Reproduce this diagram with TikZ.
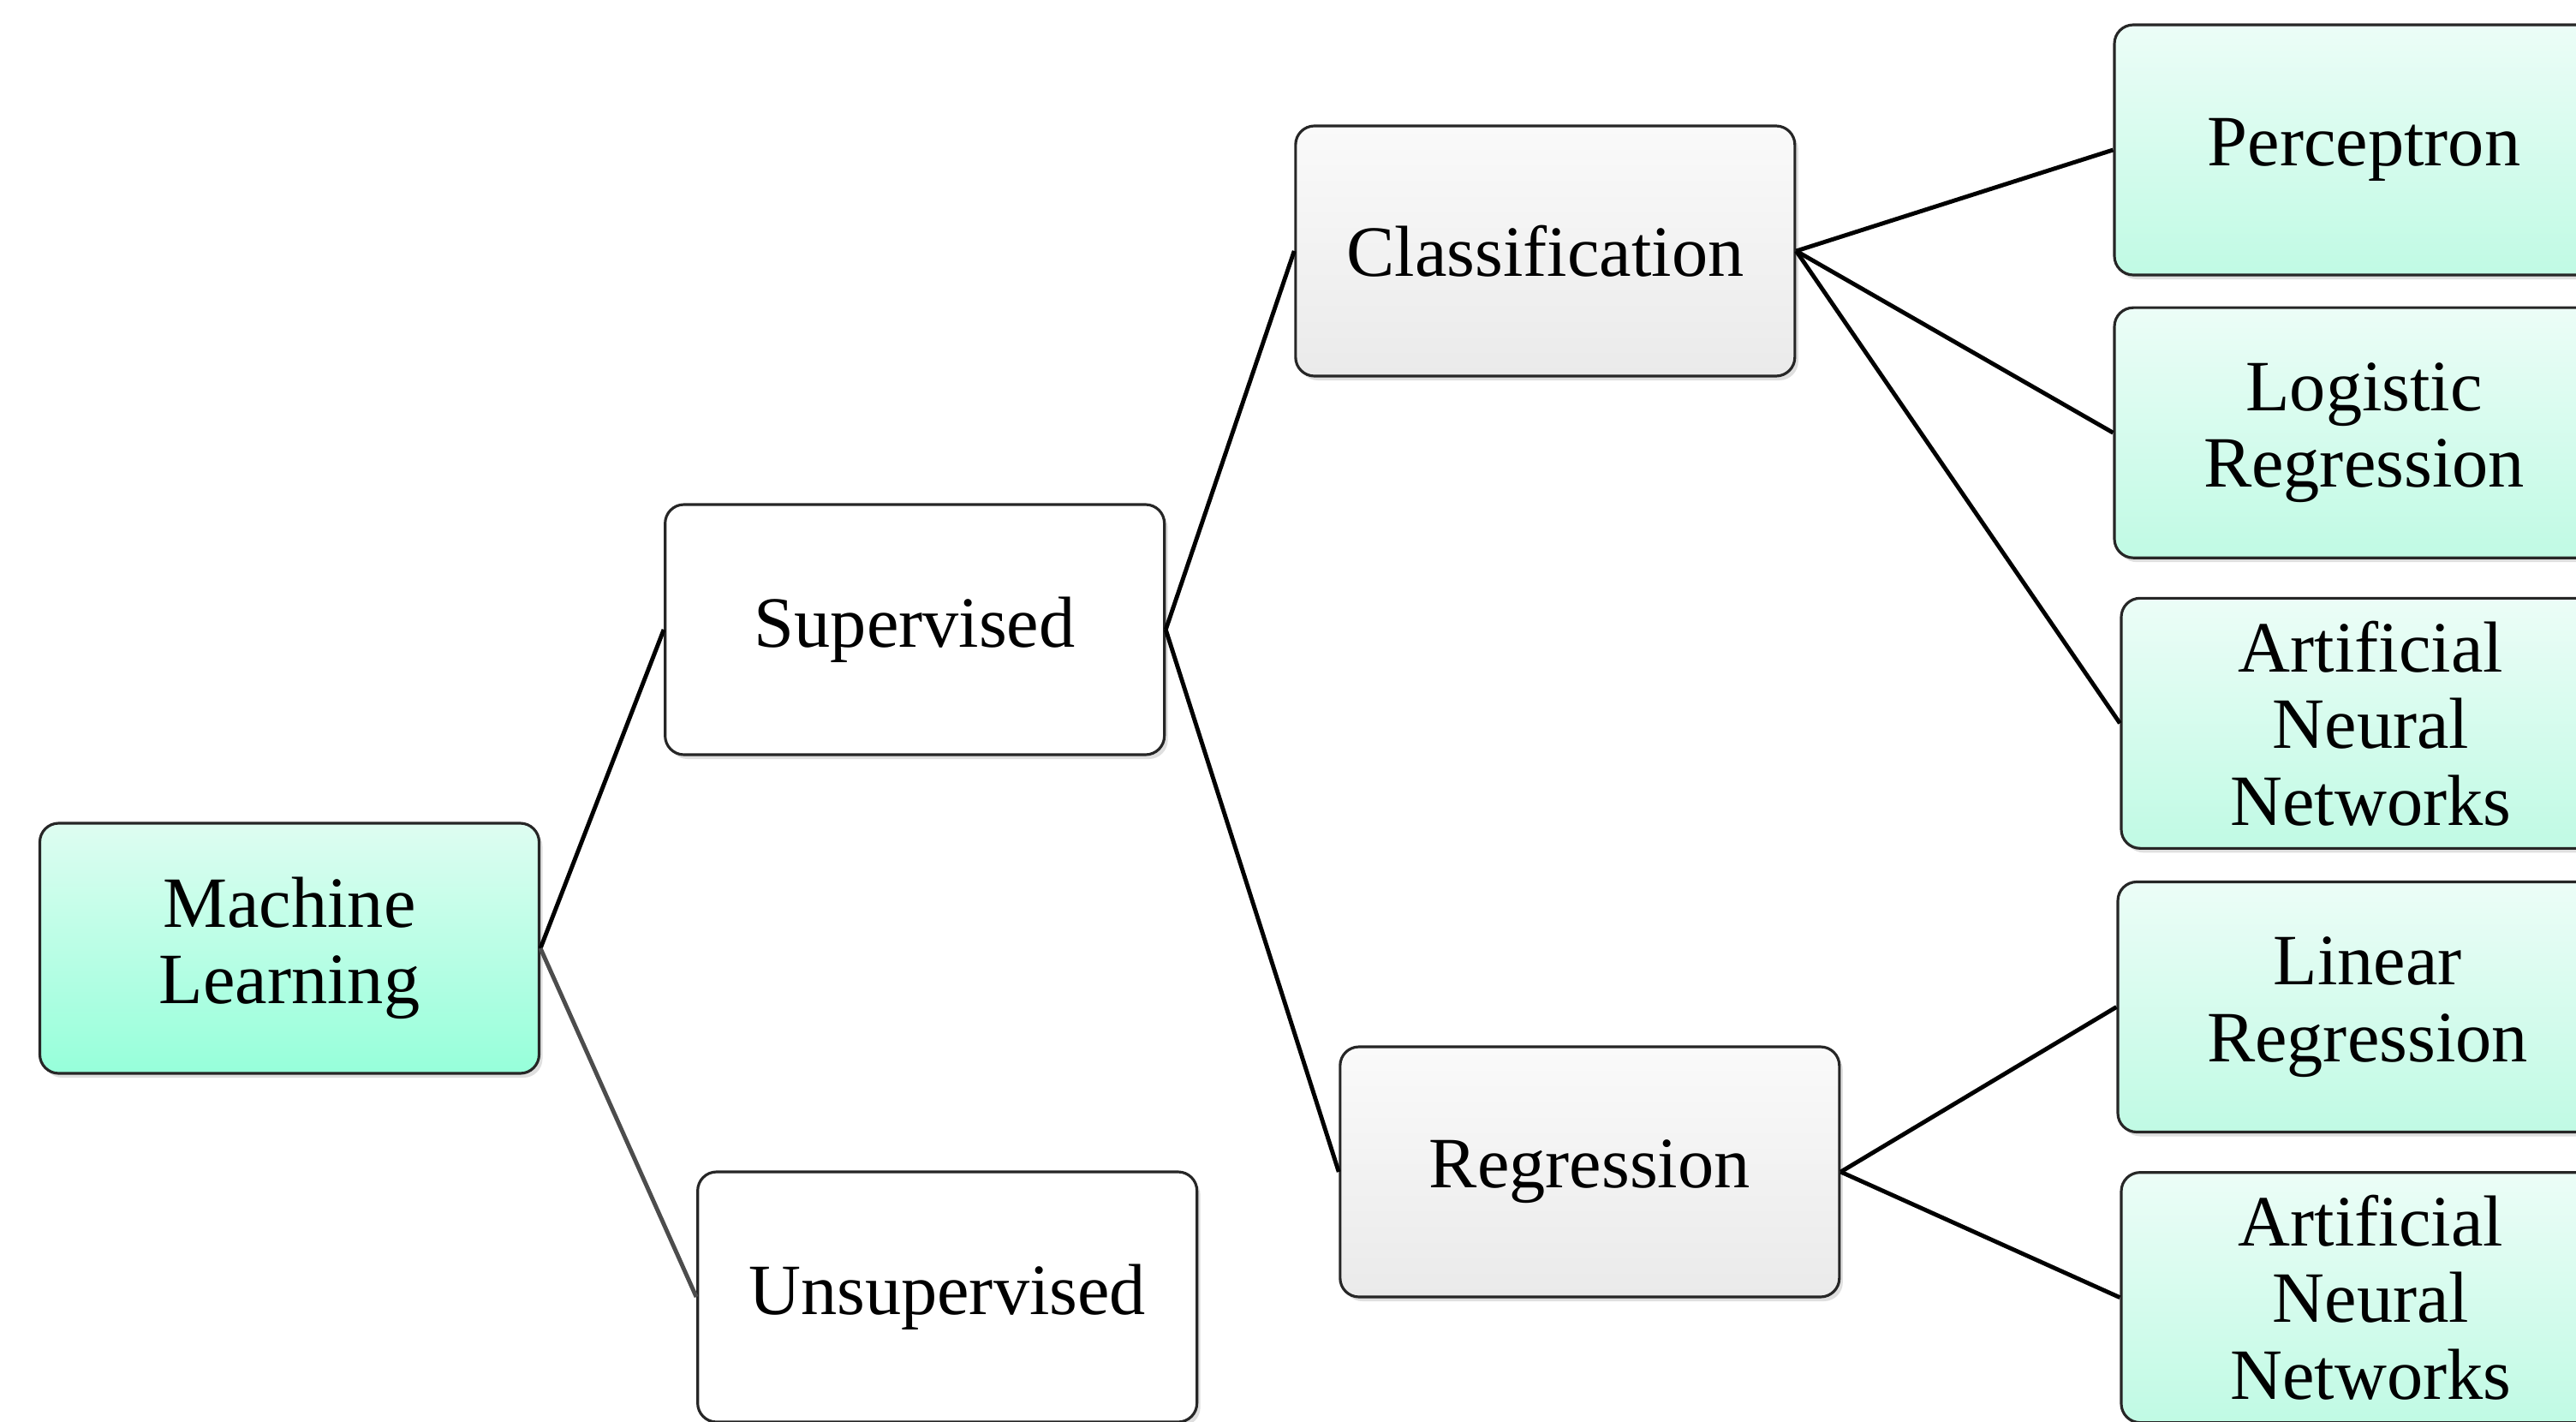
\documentclass[tikz,border=0pt]{standalone}
\usepackage{fontspec}
\setmainfont{Liberation Serif}
\usepackage{tikz}
\usetikzlibrary{positioning}
\usetikzlibrary{shadows}

\definecolor{mintTop}{RGB}{222,253,241}
\definecolor{mintBot}{RGB}{150,255,218}
\definecolor{leafTop}{RGB}{236,253,247}
\definecolor{leafBot}{RGB}{192,250,228}
\definecolor{greyTop}{RGB}{250,250,250}
\definecolor{greyBot}{RGB}{234,234,234}

\tikzset{
    box/.style={rectangle, rounded corners=0.22cm, draw=black!85, line width=0.9pt,
        minimum width=5.83cm, minimum height=2.92cm, align=center, inner sep=2pt,
        font=\fontsize{24}{25.5}\selectfont,
        drop shadow={shadow xshift=0.04cm, shadow yshift=-0.05cm, opacity=0.25}},
    rootbox/.style={box, top color=mintTop, bottom color=mintBot},
    leafbox/.style={box, top color=leafTop, bottom color=leafBot},
    midbox/.style={box, top color=greyTop, bottom color=greyBot},
    plainbox/.style={box, fill=white},
    link/.style={line width=1.4pt, draw=black}
}

\begin{document}
\begin{tikzpicture}
        \useasboundingbox (0,0) rectangle (30.08,-16.60);

        \node [rootbox] (ml) at (3.38,-11.07)                        {Machine\\Learning};

        \begin{scope}
            \node [plainbox] (sup)   [right = 1.44 of ml, yshift=3.72cm]  {Supervised};
            \node [plainbox] (unsup) [right = 1.82 of ml, yshift=-4.07cm] {Unsupervised};
        \end{scope}

        \begin{scope}
            \node [midbox] (cls) [right = 1.50 of sup, yshift=4.42cm]   {Classification};
            \node [midbox] (reg) [right = 2.02 of sup, yshift=-6.33cm]  {Regression};
        \end{scope}

        \begin{scope}
            \node [leafbox] (perc)   [right = 3.70 of cls, yshift=1.18cm]        {Perceptron};
            \node [leafbox] (logreg) [below = 0.35 of perc]                      {Logistic\\Regression};
            \node [leafbox] (ann1)   [below = 0.44 of logreg, xshift=0.08cm]     {Artificial\\Neural\\Networks};
            \node [leafbox] (linreg) [below = 0.36 of ann1, xshift=-0.04cm]      {Linear\\Regression};
            \node [leafbox] (ann2)   [below = 0.44 of linreg, xshift=0.04cm]     {Artificial\\Neural\\Networks};
        \end{scope}

        \path[link]
            (ml.east) edge (sup.west)
            (ml.east) edge [draw=black!70] (unsup.west)
            (sup.east) edge (cls.west)
            (sup.east) edge (reg.west)
            (cls.east) edge (perc.west)
            (cls.east) edge (logreg.west)
            (cls.east) edge (ann1.west)
            (reg.east) edge (linreg.west)
            (reg.east) edge (ann2.west)
            ;
\end{tikzpicture}
\end{document}
